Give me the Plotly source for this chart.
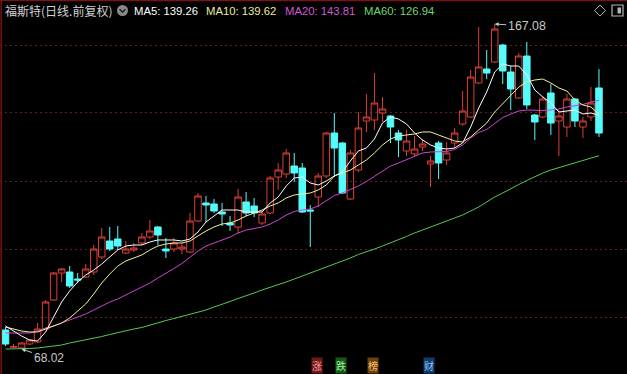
import plotly.graph_objects as go

W, H = 627, 374

# ---------------- data ----------------
stock_name = "福斯特(日线.前复权)"

opens = [73.82, 68.6, 68.33, 69.55, 70.16, 74.12, 82.96, 91.19, 91.49, 89.36,
         89.97, 91.49, 96.07, 100.94, 101.55, 97.29, 98.20, 100.33, 102.16, 105.21,
         98.50, 98.50, 98.50, 97.59, 107.04, 112.53, 112.22, 109.78, 106.43, 105.21,
         112.83, 111.61, 106.43, 109.48, 120.45, 121.36, 123.80, 123.19, 110.39, 114.35,
         120.76, 133.86, 130.81, 113.74, 122.58, 137.52, 137.82, 139.96, 139.04, 133.86,
         128.38, 127.46, 129.59, 124.41, 130.81, 125.63, 130.81, 136.60, 138.74, 149.10,
         153.37, 155.50, 160.68, 152.45, 144.53, 157.33, 139.35, 138.74, 146.05, 137.52,
         135.69, 144.22, 135.69, 138.74, 147.58]
highs = [74.73, 69.6, 70.16, 71.07, 75.95, 82.96, 91.49, 92.71, 93.32, 91.19,
         93.93, 99.72, 104.91, 105.21, 105.52, 100.94, 100.33, 103.38, 107.34, 105.52,
         101.86, 101.86, 100.33, 109.48, 115.57, 114.66, 113.74, 112.53, 108.56, 116.79,
         115.88, 114.05, 110.09, 120.76, 124.72, 128.98, 127.77, 124.72, 111.92, 121.67,
         134.17, 139.96, 131.12, 128.68, 140.26, 145.75, 152.15, 144.83, 139.35, 134.78,
         134.78, 132.95, 132.03, 126.85, 131.42, 131.12, 135.39, 146.66, 153.06, 166.17,
         159.16, 167.08, 160.99, 154.28, 158.25, 161.60, 139.65, 145.14, 148.80, 140.87,
         145.75, 144.53, 138.74, 147.88, 153.37]
lows = [68.94, 68.3, 68.02, 69.24, 69.85, 73.97, 82.66, 88.45, 86.62, 88.14,
        89.67, 90.58, 95.46, 97.90, 98.20, 96.98, 97.59, 99.72, 101.55, 99.72,
        95.76, 97.59, 96.98, 97.29, 106.73, 106.73, 109.48, 105.52, 103.99, 103.38,
        108.56, 108.26, 105.82, 109.17, 116.49, 120.15, 118.93, 109.48, 99.11, 111.31,
        120.15, 120.45, 115.27, 113.44, 121.97, 134.17, 134.78, 137.21, 130.81, 126.55,
        126.85, 126.55, 128.38, 117.40, 119.84, 124.11, 129.29, 136.00, 138.43, 148.80,
        150.32, 155.20, 148.80, 140.87, 144.22, 141.18, 131.73, 138.43, 133.25, 126.85,
        132.64, 135.69, 132.34, 137.52, 132.64]
closes = [69.55, 68.7, 69.85, 70.77, 74.12, 82.35, 91.19, 92.41, 87.23, 89.06,
          92.41, 98.50, 102.16, 98.50, 99.42, 98.50, 98.81, 102.16, 103.99, 102.77,
          97.90, 100.33, 99.11, 107.04, 114.66, 111.92, 110.09, 109.17, 105.82, 114.35,
          109.48, 109.48, 109.17, 120.15, 122.58, 127.77, 121.67, 109.78, 110.09, 120.76,
          133.86, 129.29, 115.57, 127.77, 135.39, 138.74, 143.01, 141.18, 135.69, 131.73,
          131.42, 128.98, 130.51, 125.33, 124.72, 127.77, 133.86, 140.57, 150.93, 153.98,
          152.15, 165.56, 152.76, 147.27, 157.33, 142.40, 137.21, 144.22, 136.91, 139.04,
          144.22, 137.52, 137.52, 143.01, 133.86]

ma5 = [75.04, 73.51, 71.99, 70.77, 70.46, 73.21, 77.78, 82.35, 85.70, 88.45,
       90.58, 92.10, 93.93, 96.07, 98.20, 99.42, 99.72, 99.72, 100.64, 101.25,
       101.25, 101.25, 100.94, 101.55, 103.69, 106.73, 108.56, 110.39, 110.39, 110.39,
       109.78, 109.78, 109.78, 112.53, 114.35, 117.71, 120.15, 120.45, 118.62, 118.01,
       119.23, 120.76, 121.97, 125.33, 128.38, 129.29, 132.03, 136.91, 138.74, 138.13,
       136.60, 133.86, 131.73, 130.20, 129.29, 128.98, 129.29, 130.81, 135.69, 141.48,
       146.36, 152.45, 154.89, 154.28, 154.28, 151.54, 146.97, 144.83, 143.01, 140.26,
       140.57, 140.87, 139.65, 139.96, 139.26]
ma10 = [74.73, 74.12, 73.51, 73.21, 73.21, 74.12, 75.04, 75.95, 77.47, 79.61,
        81.74, 84.79, 88.14, 90.88, 93.32, 94.85, 95.76, 96.68, 98.20, 99.42,
        100.03, 100.33, 100.33, 100.94, 102.47, 103.99, 105.21, 106.12, 106.43, 107.34,
        108.56, 109.48, 110.39, 111.61, 112.53, 114.05, 114.96, 115.27, 115.57, 116.49,
        118.01, 120.76, 121.67, 122.58, 124.11, 125.63, 127.77, 130.20, 132.03, 132.95,
        133.25, 133.56, 134.17, 134.17, 133.25, 132.34, 131.42, 131.12, 132.64, 134.78,
        136.91, 140.26, 142.70, 145.14, 147.88, 149.41, 150.02, 150.32, 149.10, 147.58,
        146.66, 143.92, 142.40, 141.79, 139.62]
ma20 = [72.90, 72.90, 72.90, 72.90, 73.51, 74.43, 75.04, 75.95, 76.86, 77.78,
        78.69, 79.91, 81.13, 82.35, 83.27, 84.49, 85.70, 86.92, 88.14, 89.67,
        91.04, 92.56, 94.08, 95.91, 97.89, 99.42, 100.33, 101.25, 102.16, 103.38,
        104.30, 104.75, 105.21, 106.12, 107.34, 108.87, 109.93, 110.39, 110.70, 111.61,
        113.29, 114.81, 115.57, 116.64, 117.71, 119.08, 120.60, 122.28, 123.80, 124.72,
        125.79, 126.70, 127.77, 128.07, 128.23, 128.23, 128.83, 130.20, 132.34, 134.02,
        134.93, 136.76, 138.58, 139.65, 140.57, 140.87, 140.72, 140.72, 140.87, 141.18,
        141.79, 142.25, 142.55, 143.31, 143.81]
ma60 = [68.02, 68.02, 68.02, 68.18, 68.33, 68.64, 68.94, 69.24, 69.85, 70.31,
        70.77, 71.38, 71.83, 72.44, 73.05, 73.51, 74.12, 74.58, 75.34, 75.95,
        76.71, 77.32, 77.93, 78.54, 79.15, 79.91, 80.83, 81.59, 82.50, 83.42,
        84.18, 85.09, 86.01, 86.77, 87.68, 88.45, 89.36, 90.28, 91.04, 91.95,
        92.87, 93.78, 94.85, 95.76, 96.83, 97.59, 98.50, 99.42, 100.33, 101.40,
        102.32, 103.38, 104.30, 105.37, 106.28, 107.04, 107.95, 108.87, 110.09, 111.31,
        112.83, 114.35, 115.57, 116.94, 118.16, 119.38, 120.60, 121.67, 122.58, 123.34,
        124.11, 124.87, 125.63, 126.24, 126.94]

ma_names = ["MA5", "MA10", "MA20", "MA60"]
grid_levels = [160.68, 139.96, 119.23, 98.50, 77.77]
bottom_tabs = ["涨", "跌", "榜", "财"]

# ---------------- styles ----------------
RED = '#dd3f36'
CYAN = '#54fcfc'
MA_LINE_COLORS = ['#ffffff', '#f3f39a', '#cf45cf', '#55c955']
MA_TEXT_COLORS = ['#ffffff', '#ecec9a', '#d655d6', '#6fd66f']
MA_TEXT_LEFT = [133, 205, 284, 363]
BORDER = '#7a1414'
ICON = '#b4b4b4'
TAB_STYLE = [('#ff9a9a', '#6e1717', 317), ('#9af09a', '#185818', 341),
             ('#ffc070', '#6a4210', 373), ('#92c8ff', '#123a6a', 429)]


def px(x):
    return x / W


def py(y):
    return 1 - y / H


n = len(closes)
idx = list(range(n))

fig = go.Figure()
fig.add_trace(go.Candlestick(
    x=idx, open=opens, high=highs, low=lows, close=closes,
    increasing=dict(line=dict(color=RED, width=1), fillcolor='rgba(0,0,0,0)'),
    decreasing=dict(line=dict(color=CYAN, width=1), fillcolor=CYAN),
    whiskerwidth=0, hoverinfo='skip', showlegend=False))

series = [ma5, ma10, ma20, ma60]
for k in [3, 2, 1, 0]:
    fig.add_trace(go.Scatter(x=idx, y=series[k], mode='lines',
                             line=dict(color=MA_LINE_COLORS[k], width=1),
                             hoverinfo='skip', showlegend=False))

annotations = []
# header
annotations.append(dict(xref='paper', yref='paper', x=px(3), y=py(10.5),
                        xanchor='left', yanchor='middle', showarrow=False,
                        text=stock_name,
                        font=dict(family='Noto Sans CJK SC', size=12, color='#d2d2d2')))
for k, name in enumerate(ma_names):
    annotations.append(dict(xref='paper', yref='paper', x=px(MA_TEXT_LEFT[k] - 1), y=py(10.5),
                            xanchor='left', yanchor='middle', showarrow=False,
                            text=f"{name}: {series[k][-1]:.2f}",
                            font=dict(family='Liberation Sans', size=11.3,
                                      color=MA_TEXT_COLORS[k])))

# highest / lowest markers
imax = max(idx, key=lambda i: highs[i])
imin = min(idx, key=lambda i: lows[i])
annotations.append(dict(x=imax, y=highs[imax], xref='x', yref='y',
                        text=f"{highs[imax]:.2f}", showarrow=True, ax=32, ay=2,
                        arrowhead=2, arrowsize=0.8, arrowwidth=1, arrowcolor='#c4c4c4',
                        standoff=0,
                        font=dict(family='Liberation Sans', size=12.4, color='#c8c8c8')))
annotations.append(dict(x=imin, y=lows[imin], xref='x', yref='y',
                        text=f"{lows[imin]:.2f}", showarrow=True, ax=27, ay=9,
                        arrowhead=2, arrowsize=0.8, arrowwidth=1, arrowcolor='#c4c4c4',
                        standoff=0,
                        font=dict(family='Liberation Sans', size=12, color='#c8c8c8')))

# bottom tabs
for t, (fc, bc, cx) in zip(bottom_tabs, TAB_STYLE):
    annotations.append(dict(xref='paper', yref='paper', x=px(cx), y=py(373.5),
                            xanchor='center', yanchor='bottom', showarrow=False,
                            text=t, bgcolor=bc, borderpad=0,
                            font=dict(family='Noto Sans CJK SC', size=10, color=fc)))

shapes = [
    dict(type='line', xref='paper', yref='paper', x0=px(1.2), x1=px(1.2), y0=0, y1=1,
         line=dict(color=BORDER, width=1.5)),
    dict(type='line', xref='paper', yref='paper', x0=0, x1=1, y0=py(0.6), y1=py(0.6),
         line=dict(color=BORDER, width=1.5)),
    # dropdown icon
    dict(type='circle', xref='paper', yref='paper', x0=px(117), x1=px(128),
         y0=py(16), y1=py(5), fillcolor='#8a8a8a', line=dict(width=0)),
    dict(type='path', xref='paper', yref='paper',
         path=f"M {px(119.6)},{py(9.2)} L {px(122.5)},{py(12.2)} L {px(125.4)},{py(9.2)}",
         line=dict(color='#202020', width=1.6)),
    # diamond icon
    dict(type='path', xref='paper', yref='paper',
         path=(f"M {px(600)},{py(5)} L {px(605.5)},{py(10.5)} L {px(600)},{py(16)} "
               f"L {px(594.5)},{py(10.5)} Z"),
         line=dict(color=ICON, width=1)),
    # panel icon
    dict(type='rect', xref='paper', yref='paper', x0=px(612), x1=px(623),
         y0=py(16), y1=py(5), line=dict(color=ICON, width=1.2)),
    dict(type='rect', xref='paper', yref='paper', x0=px(617.5), x1=px(621),
         y0=py(13.5), y1=py(7.5), fillcolor=ICON, line=dict(width=0)),
]

x_step = 8.02
x0 = -5.5 / x_step
fig.update_layout(
    width=W, height=H,
    margin=dict(l=0, r=0, t=0, b=0, pad=0),
    paper_bgcolor='#000000', plot_bgcolor='#000000',
    boxgap=0.1, boxgroupgap=0.1,
    showlegend=False, hovermode=False,
    xaxis=dict(range=[x0, x0 + W / x_step], showgrid=False, zeroline=False,
               showticklabels=False, ticks='', showline=False,
               rangeslider=dict(visible=False), fixedrange=True),
    yaxis=dict(range=[174.40 - 0.3048 * H, 174.40], tickvals=grid_levels,
               showticklabels=False, ticks='', showline=False, zeroline=False,
               showgrid=True, gridcolor='#5e2020', gridwidth=1, griddash='2px,3px',
               fixedrange=True),
    annotations=annotations,
    shapes=shapes,
)

fig.write_html("out.html")
